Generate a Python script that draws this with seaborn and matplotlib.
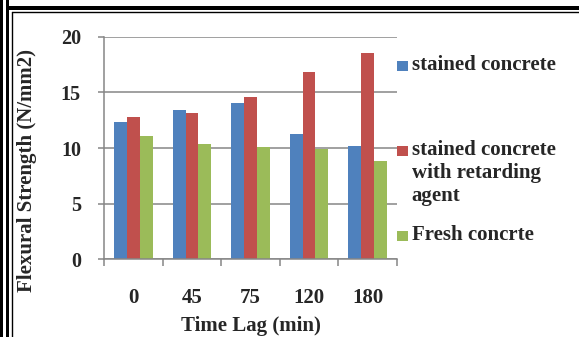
import matplotlib
matplotlib.use("Agg")
import matplotlib.pyplot as plt
import seaborn as sns
import pandas as pd
from matplotlib.patches import Rectangle
from matplotlib.lines import Line2D

# Flexural strength (N/mm2) against time lag (min)
time_lag = ["0", "45", "75", "120", "180"]
stained = [12.3, 13.4, 14.0, 11.3, 10.2]
stained_retarder = [12.75, 13.15, 14.6, 16.8, 18.55]
fresh = [11.05, 10.4, 10.1, 9.9, 8.85]

series_names = ["stained concrete",
                "stained concrete\nwith retarding\nagent",
                "Fresh concrte"]
colors = ["#4F81BD", "#C0504D", "#9BBB59"]

df = pd.DataFrame({
    "lag": time_lag * 3,
    "strength": stained + stained_retarder + fresh,
    "series": [series_names[0]] * 5 + [series_names[1]] * 5 + [series_names[2]] * 5,
})

sns.set_theme(style="white")
serif = ["Liberation Serif", "DejaVu Serif"]
plt.rcParams["font.family"] = serif
plt.rcParams["font.weight"] = "bold"

W, H = 579, 337
fig = plt.figure(figsize=(W / 100, H / 100), dpi=100)
ax = fig.add_axes([104.3 / W, 1 - 259.3 / H, (396.8 - 104.3) / W, (259.3 - 36.7) / H])

sns.barplot(data=df, x="lag", y="strength", hue="series", order=time_lag,
            hue_order=series_names, palette=colors, width=0.66, gap=0,
            linewidth=0, saturation=1, legend=False, ax=ax, zorder=3)

grid_c = "#868686"
ax.set_ylim(0, 20)
ax.set_xlim(-0.5, len(time_lag) - 0.5)
ax.set_yticks([0, 5, 10, 15, 20])
ax.yaxis.grid(True, color=grid_c, linewidth=1.1)
ax.set_axisbelow(True)
for s in ["top", "right"]:
    ax.spines[s].set_visible(False)
for s in ["left", "bottom"]:
    ax.spines[s].set_color(grid_c)
    ax.spines[s].set_linewidth(1.1)
    ax.spines[s].set_zorder(4)

ax.tick_params(axis="y", direction="out", length=4.3, width=1.1, color=grid_c,
               pad=12.5, labelsize=14.5, left=True)
ax.set_xticks([i - 0.5 for i in range(len(time_lag) + 1)], minor=True)
ax.tick_params(axis="x", which="minor", direction="out", length=5, width=1.1,
               color=grid_c, bottom=True)
ax.tick_params(axis="x", which="major", length=0, pad=21, labelsize=15)
for lab in ax.get_xticklabels() + ax.get_yticklabels():
    lab.set_fontweight("bold")
    lab.set_family(serif)

ax.set_xlabel("Time Lag (min)", fontsize=15, fontweight="bold", family=serif)
ax.set_ylabel("Flexural Strength (N/mm2)", fontsize=15, fontweight="bold", family=serif)
ax.xaxis.set_label_coords(0.5, -0.255)
ax.yaxis.set_label_coords(-0.23, 0.40)

# legend entries
tf = fig.transFigure
entry_y = [66, 151, 236]
for name, c, yc in zip(series_names, colors, entry_y):
    fig.patches.append(Rectangle((397.3 / W, 1 - (yc + 5) / H), 11 / W, 10 / H,
                                 facecolor=c, edgecolor="none", transform=tf))
    fig.text(411.7 / W, 1 - (yc - 11) / H, name, transform=tf, ha="left", va="top",
             fontsize=15, fontweight="bold", family=serif, linespacing=1.2)

# page frame
fig.add_artist(Rectangle((0, 0), 3 / W, 1, facecolor="black", edgecolor="none", transform=tf))
fig.add_artist(Rectangle((6 / W, 0), 3 / W, 1, facecolor="black", edgecolor="none", transform=tf))
fig.add_artist(Rectangle((9 / W, 1 - 10 / H), 1, 4.5 / H, facecolor="black", edgecolor="none", transform=tf))
fig.add_artist(Line2D([11.5 / W, 11.5 / W], [0, 1 - 11.5 / H], color="black", lw=1, transform=tf))
fig.add_artist(Line2D([11.5 / W, 1], [1 - 11.5 / H, 1 - 11.5 / H], color="black", lw=1, transform=tf))

fig.savefig("out.png", dpi=100)
